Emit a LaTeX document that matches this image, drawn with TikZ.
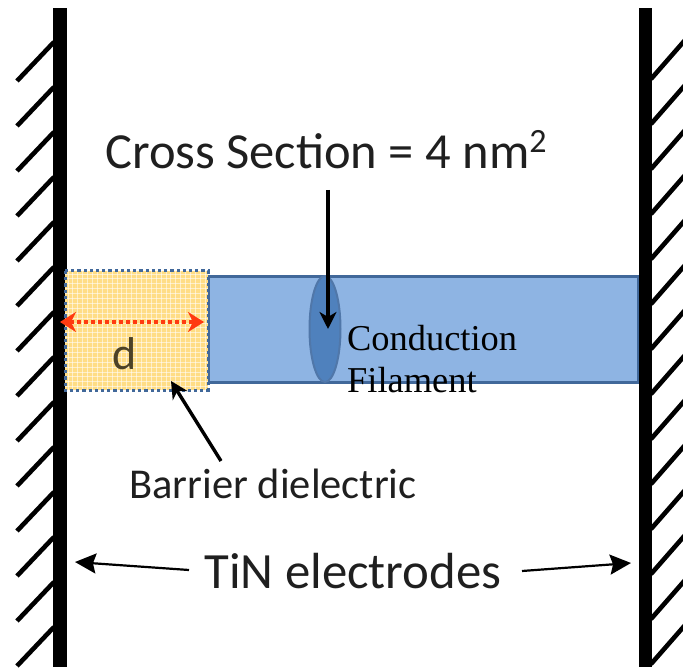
\documentclass[tikz,border=0pt]{standalone}
\usepackage{fontspec}
\setmainfont{Carlito}
\newfontfamily\serifont{Liberation Serif}
\usetikzlibrary{arrows.meta}
\definecolor{filblue}{HTML}{8EB4E3}
\definecolor{edgeblue}{HTML}{41689A}
\definecolor{ellblue}{HTML}{4F81BD}
\definecolor{barfill}{HTML}{FFDD85}
\definecolor{dred}{HTML}{FF3A10}
\tikzset{
  x=1pt,y=-1pt,
  wall/.style={fill=black,draw=none},
  hatch/.style={line width=4.6pt,black},
  sanslabel/.style={inner sep=0pt,anchor=center,text=black!88},
  seriflabel/.style={inner sep=0pt,anchor=west,text=black,font=\serifont\fontsize{36.4}{36.4}\selectfont},
  callout/.style={line width=3.4pt,black,-{Stealth[length=17pt,width=17pt,inset=5pt]}},
  thinarrow/.style={line width=2.2pt,black,-{Stealth[length=21pt,width=20pt,inset=3pt]}},
  reddim/.style={line width=3.4pt,dred,dash pattern=on 3.5pt off 3.5pt,{Stealth[length=16pt,width=20pt,inset=5pt]}-{Stealth[length=16pt,width=20pt,inset=5pt]}},
}
\begin{document}
\begin{tikzpicture}
\useasboundingbox (0,0) rectangle (683,671);
% filament
\draw[fill=filblue,draw=edgeblue,line width=3pt] (208,277) rectangle (638,382);
\draw[fill=ellblue,draw=edgeblue!80!filblue,line width=2pt] (325,329) ellipse [x radius=15.5,y radius=53];
% walls
\fill[wall] (53,8) rectangle (67,667);
\fill[wall] (639,8) rectangle (652,667);
\foreach \k in {0,...,13}
  \draw[hatch] (54,{42+45*\k}) -- (17,{82+45*\k-1});
\foreach \k in {0,...,13}
  \draw[hatch] (651,{79+45*\k}) -- (686,{39+45*\k});
% barrier
\fill[barfill] (65,271) rectangle (208,390);
\foreach \i in {0,...,28} {\draw[white,opacity=.55,line width=.9pt] ({68+\i*4.9},271) -- ({68+\i*4.9},390);}
\foreach \i in {0,...,24} {\draw[white,opacity=.55,line width=.9pt] (65,{274+\i*4.9}) -- (208,{274+\i*4.9});}
\draw[edgeblue,line width=3pt,dash pattern=on 3.2pt off 3pt] (65,271) rectangle (208,390);
% labels
\node[sanslabel,font=\fontsize{50.5}{50.5}\selectfont] (cs) at (326,150) {Cross Section = 4 nm\raisebox{16pt}{\fontsize{34}{34}\selectfont 2}};
\coordinate (csfrom) at (328,190);
\coordinate (csto) at (328,329);
\draw[callout] (csfrom) -- (csto);
\node[seriflabel] (cf1) at (347,338) {Conduction};
\node[seriflabel] (cf2) at (347,380) {Filament};
\coordinate (dl) at (60,322);
\coordinate (dr) at (204,322);
\draw[reddim] (dl) -- (dr);
\node[sanslabel,font=\fontsize{46}{46}\selectfont,text=black!70!barfill] (d) at (125,354) {d};
\node[sanslabel,font=\fontsize{42.5}{42.5}\selectfont] (bd) at (273,484) {Barrier dielectric};
\coordinate (bdfrom) at (221,461);
\coordinate (bdto) at (171,381);
\draw[callout] (bdfrom) -- (bdto);
\node[sanslabel,font=\fontsize{50.8}{50.8}\selectfont] (tin) at (353,571) {TiN electrodes};
\coordinate (tl) at (75,562);
\coordinate (tr) at (631,563);
\draw[thinarrow] (189,570) -- (tl);
\draw[thinarrow] (522,571) -- (tr);
\end{tikzpicture}
\end{document}
